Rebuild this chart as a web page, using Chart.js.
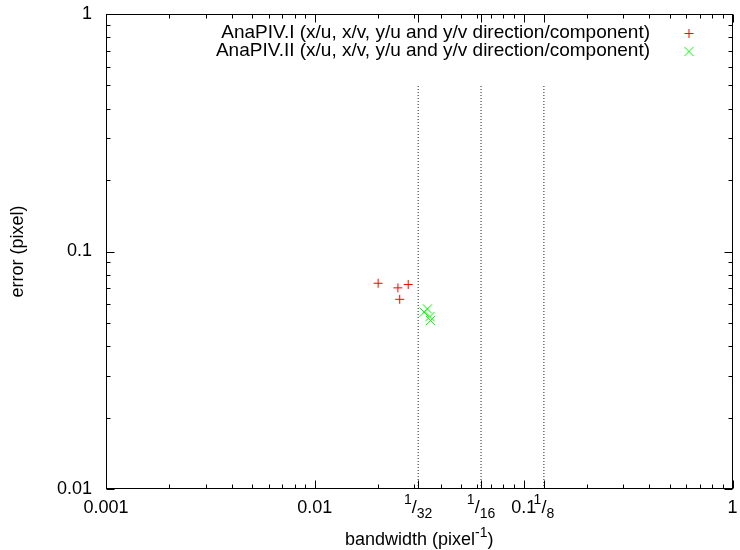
<!DOCTYPE html>
<html>
<head>
<meta charset="utf-8">
<script src="https://cdn.jsdelivr.net/npm/chart.js@4.4.0/dist/chart.umd.min.js"></script>
<style>
  html, body { margin: 0; padding: 0; background: #fff; }
</style>
</head>
<body>
<canvas id="chart" width="740" height="550"></canvas>
<script>
// values
const anaPiv1Bandwidth = [0.0201, 0.0250, 0.0280, 0.0255];
const anaPiv1Error = [0.0735, 0.0703, 0.0726, 0.0629];
const anaPiv2Bandwidth = [0.0334, 0.0346, 0.0356, 0.0358];
const anaPiv2Error = [0.0555, 0.0573, 0.0532, 0.0512];
const seriesLabels = [
  'AnaPIV.I (x/u, x/v, y/u and y/v direction/component)',
  'AnaPIV.II (x/u, x/v, y/u and y/v direction/component)',
];
const seriesColors = ['#ff0000', '#00ff00'];

const markerBandwidths = [1 / 32, 1 / 16, 1 / 8];
const markerLabels = [['1', '32'], ['1', '16'], ['1', '8']];
const markerTop = 0.5;

const xTicks = [0.001, 0.01, 0.1, 1];
const xTickLabels = ['0.001', '0.01', '0.1', '1'];
const yTicks = [0.01, 0.1, 1];
const yTickLabels = ['0.01', '0.1', '1'];

const xTitle = 'bandwidth (pixel';
const xTitleSup = '-1';
const yTitle = 'error (pixel)';

const FONT = '"Liberation Sans", Arial, Helvetica, sans-serif';
const BIG = '18px ' + FONT;
const SMALL = '14px ' + FONT;

function toPoints(xs, ys) {
  return xs.map((x, i) => ({ x, y: ys[i] }));
}

function minorValues(majors) {
  const out = [];
  for (let i = 0; i < majors.length - 1; i++) {
    for (let k = 2; k <= 9; k++) out.push(majors[i] * k);
  }
  return out;
}

const markerDatasets = markerBandwidths.map((b) => ({
  data: [{ x: b, y: yTicks[0] }, { x: b, y: markerTop }],
  showLine: true,
  borderColor: '#222',
  borderWidth: 1,
  borderDash: [1, 2],
  pointRadius: 0,
}));

function drawFraction(ctx, num, den, cx, baseY) {
  ctx.font = SMALL;
  const wn = ctx.measureText(num).width;
  const wd = ctx.measureText(den).width;
  ctx.font = BIG;
  const ws = ctx.measureText('/').width;
  let x = cx - (wn + ws + wd) / 2;
  ctx.textAlign = 'left';
  ctx.textBaseline = 'alphabetic';
  ctx.font = SMALL;
  ctx.fillText(num, x, baseY - 9);
  x += wn;
  ctx.font = BIG;
  ctx.fillText('/', x, baseY);
  x += ws;
  ctx.font = SMALL;
  ctx.fillText(den, x, baseY + 5);
}

const gnuplotFrame = {
  id: 'gnuplotFrame',
  afterDraw(chart) {
    const { ctx, chartArea: a, scales } = chart;
    const xs = scales.x;
    const ys = scales.y;
    const L = Math.round(a.left) + 0.5;
    const R = Math.round(a.right) - 0.5;
    const T = Math.round(a.top) + 0.5;
    const B = Math.round(a.bottom) - 0.5;
    ctx.save();
    ctx.strokeStyle = '#000';
    ctx.lineWidth = 1;
    ctx.strokeRect(L, T, R - L, B - T);

    ctx.beginPath();
    const xTick = (v, len) => {
      const px = Math.round(xs.getPixelForValue(v)) + 0.5;
      ctx.moveTo(px, B); ctx.lineTo(px, B - len);
      ctx.moveTo(px, T); ctx.lineTo(px, T + len);
    };
    const yTick = (v, len) => {
      const py = Math.round(ys.getPixelForValue(v)) + 0.5;
      ctx.moveTo(L, py); ctx.lineTo(L + len, py);
      ctx.moveTo(R, py); ctx.lineTo(R - len, py);
    };
    xTicks.forEach((v) => xTick(v, 8));
    markerBandwidths.forEach((v) => xTick(v, 8));
    minorValues(xTicks).forEach((v) => xTick(v, 4));
    yTicks.forEach((v) => yTick(v, 8));
    minorValues(yTicks).forEach((v) => yTick(v, 4));
    ctx.stroke();

    ctx.fillStyle = '#000';
    ctx.font = BIG;
    ctx.textBaseline = 'middle';
    ctx.textAlign = 'right';
    yTicks.forEach((v, i) => {
      ctx.fillText(yTickLabels[i], a.left - 14, ys.getPixelForValue(v));
    });
    ctx.textAlign = 'center';
    ctx.textBaseline = 'alphabetic';
    xTicks.forEach((v, i) => {
      ctx.fillText(xTickLabels[i], xs.getPixelForValue(v), a.bottom + 24);
    });
    markerBandwidths.forEach((v, i) => {
      drawFraction(ctx, markerLabels[i][0], markerLabels[i][1], xs.getPixelForValue(v), a.bottom + 24);
    });

    // axis titles
    const midX = (a.left + a.right) / 2;
    ctx.font = BIG;
    const wt = ctx.measureText(xTitle).width;
    ctx.font = SMALL;
    const wsup = ctx.measureText(xTitleSup).width;
    ctx.font = BIG;
    const wclose = ctx.measureText(')').width;
    const tx = midX - (wt + wsup + wclose) / 2;
    ctx.textAlign = 'left';
    ctx.fillText(xTitle, tx, 545);
    ctx.font = SMALL;
    ctx.fillText(xTitleSup, tx + wt, 537);
    ctx.font = BIG;
    ctx.fillText(')', tx + wt + wsup, 545);

    ctx.save();
    ctx.translate(18, (a.top + a.bottom) / 2);
    ctx.rotate(-Math.PI / 2);
    ctx.textAlign = 'center';
    ctx.textBaseline = 'middle';
    ctx.fillText(yTitle, 0, 0);
    ctx.restore();

    // key
    ctx.font = '19px ' + FONT;
    ctx.textAlign = 'right';
    ctx.textBaseline = 'middle';
    const rows = [33, 51];
    seriesLabels.forEach((label, i) => {
      ctx.fillStyle = '#000';
      ctx.fillText(label, 650, rows[i]);
      ctx.strokeStyle = seriesColors[i];
      ctx.beginPath();
      const cx = 689, cy = rows[i] + 0.5, r = 4.5;
      if (i === 0) {
        ctx.moveTo(cx - r, cy); ctx.lineTo(cx + r, cy);
        ctx.moveTo(cx, cy - r); ctx.lineTo(cx, cy + r);
      } else {
        ctx.moveTo(cx - r, cy - r); ctx.lineTo(cx + r, cy + r);
        ctx.moveTo(cx - r, cy + r); ctx.lineTo(cx + r, cy - r);
      }
      ctx.stroke();
    });
    ctx.restore();
  },
};

new Chart(document.getElementById('chart'), {
  type: 'scatter',
  data: {
    datasets: [
      {
        label: seriesLabels[0],
        data: toPoints(anaPiv1Bandwidth, anaPiv1Error),
        pointStyle: 'cross',
        pointRadius: 4.5,
        borderColor: seriesColors[0],
        borderWidth: 1,
      },
      {
        label: seriesLabels[1],
        data: toPoints(anaPiv2Bandwidth, anaPiv2Error),
        pointStyle: 'crossRot',
        pointRadius: 6.5,
        borderColor: seriesColors[1],
        borderWidth: 1,
      },
      ...markerDatasets,
    ],
  },
  options: {
    responsive: false,
    animation: false,
    layout: { padding: { left: 106, top: 14, right: 5, bottom: 61 } },
    scales: {
      x: { type: 'logarithmic', min: 0.001, max: 1, display: false },
      y: { type: 'logarithmic', min: 0.01, max: 1, display: false },
    },
    plugins: {
      legend: { display: false },
      tooltip: { enabled: false },
    },
  },
  plugins: [gnuplotFrame],
});
</script>
</body>
</html>
